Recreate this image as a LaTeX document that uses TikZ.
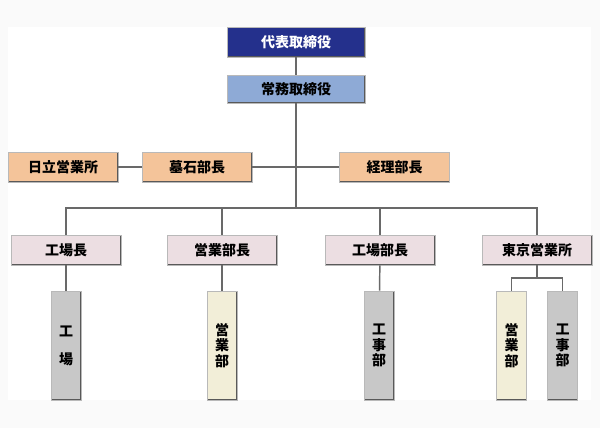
\documentclass[tikz,border=0pt]{standalone}
\usepackage{fontspec}
\setmainfont{Noto Sans CJK JP}
\usetikzlibrary{positioning}

\definecolor{ceoblue}{RGB}{36,48,140}
\definecolor{mdblue}{RGB}{142,170,214}
\definecolor{peach}{RGB}{244,196,154}
\definecolor{pinkish}{RGB}{236,222,226}
\definecolor{boxgray}{RGB}{200,200,200}
\definecolor{cream}{RGB}{242,238,216}
\definecolor{linegray}{RGB}{105,105,105}
\definecolor{bggray}{RGB}{250,250,250}

\tikzset{
  orgbox/.style={draw=gray!55,line width=0.5pt,inner sep=0pt,
    minimum width=82.5pt,minimum height=22.5pt,
    font=\fontsize{10.5}{12}\selectfont\bfseries,
    path picture={\draw[black!65,line width=1.4pt]
      (path picture bounding box.north east) --
      (path picture bounding box.south east) --
      (path picture bounding box.south west);}},
  topbox/.style={orgbox,fill=ceoblue,text=white,minimum width=103.5pt},
  mdbox/.style={orgbox,fill=mdblue,minimum width=103.5pt,minimum height=21pt},
  peachbox/.style={orgbox,fill=peach},
  pinkbox/.style={orgbox,fill=pinkish},
  tallbox/.style={orgbox,minimum width=22.5pt,minimum height=81.75pt,
    align=center,font=\fontsize{10.5}{11.5}\selectfont\bfseries},
  graybox/.style={tallbox,fill=boxgray},
  creambox/.style={tallbox,fill=cream},
  link/.style={linegray,line width=1.1pt}
}

\begin{document}
\begin{tikzpicture}[x=0.75pt,y=-0.75pt]
\useasboundingbox (0,0) rectangle (600,428);
\fill[bggray] (0,0) rectangle (600,428);
\fill[white] (8,27) rectangle (591,400);

% top
\node[topbox] (ceo) at (296,42) {代表取締役};
\node[mdbox] (md) at (296,89) {常務取締役};

% middle row
\node[peachbox] (hitachi) at (63,167) {日立営業所};
\node[peachbox] (boseki) at (197,167) {墓石部長};
\node[peachbox] (keiri) at (394.5,167) {経理部長};

% department heads
\node[pinkbox] (kojocho) at (66,250) {工場長};
\node[pinkbox] (eigyocho) at (222,250) {営業部長};
\node[pinkbox] (kojobucho) at (380,250) {工場部長};
\node[pinkbox] (tokyo) at (537,250) {東京営業所};

% sections
\node[graybox,font=\fontsize{10.5}{21}\selectfont\bfseries] (kojo) at (66,345.5) {工\\場};
\node[creambox] (eigyobu) at (222,345.5) {営\\業\\部};
\node[graybox] (kojibu) at (379,345.5) {工\\事\\部};
\node[creambox] (tkeigyo) at (511.5,345.5) {営\\業\\部};
\node[graybox] (tkkoji) at (562.5,345.5) {工\\事\\部};

\coordinate (bus) at (296,208);
\coordinate (tksplit) at (537,278);

\draw[link] (ceo) -- (md);
\draw[link] (md) -- (bus);
\draw[link] (hitachi) -- (boseki);
\draw[link] (boseki) -- (keiri);
\draw[link] (kojocho.north) |- (bus) -| (tokyo.north);
\draw[link] (eigyocho.north) -- (eigyocho.north |- bus);
\draw[link] (kojobucho.north) -- (kojobucho.north |- bus);

\draw[link] (kojocho) -- (kojo);
\draw[link] (eigyocho) -- (eigyobu);
\draw[link] (kojobucho) -- (kojibu);
\draw[link] (tokyo) -- (tksplit);
\draw[link] (tkeigyo.north) |- (tksplit) -| (tkkoji.north);
\end{tikzpicture}
\end{document}
